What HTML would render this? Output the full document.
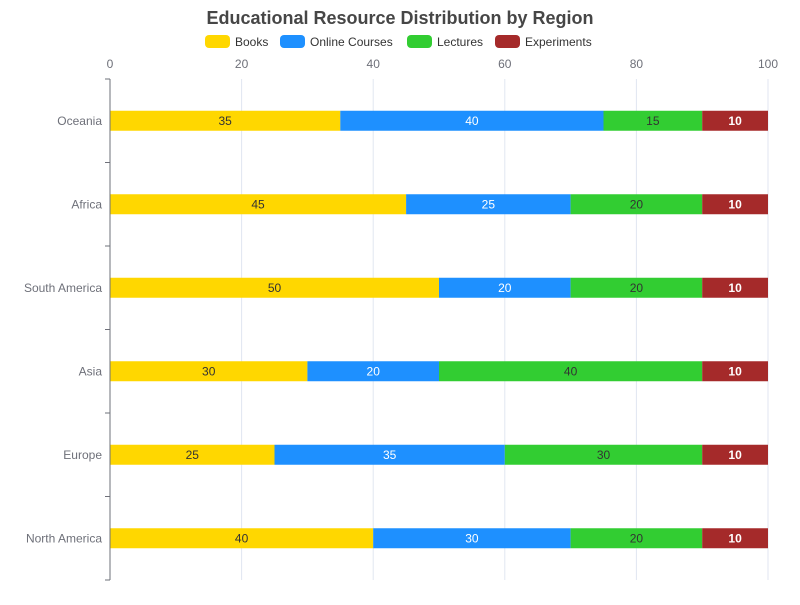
<!DOCTYPE html>
<html><head><meta charset="utf-8"><style>
body{margin:0;background:#fff;font-family:"Liberation Sans",sans-serif}
svg text{font-family:"Liberation Sans",sans-serif}
</style></head><body>
<svg id="chart" width="800" height="600" xmlns="http://www.w3.org/2000/svg">
<text x="400" y="24" text-anchor="middle" font-size="18" font-weight="bold" fill="#464646">Educational Resource Distribution by Region</text>
<g id="legend"></g>
<g id="grid"></g>
<g id="bars"></g>
<g id="axes"></g>
</svg>
<script>
const categories=["Oceania","Africa","South America","Asia","Europe","North America"];
const seriesNames=["Books","Online Courses","Lectures","Experiments"];
const books=[35,45,50,30,25,40];
const online=[40,25,20,20,35,30];
const lectures=[15,20,20,40,30,20];
const experiments=[10,10,10,10,10,10];
const xTicks=[0,20,40,60,80,100];
const colors=["#FFD700","#1E90FF","#32CD32","#A52A2A"];
const labelColors=["#333","#fff","#333","#fff"];
const series=[books,online,lectures,experiments];
const NS="http://www.w3.org/2000/svg";
const L=110,R=768,T=79,B=580,barH=20;
const x=v=>L+(R-L)*v/100;
const band=(B-T)/categories.length;
const yc=i=>T+band*(i+0.5);
function mk(tag,attrs,parent){const e=document.createElementNS(NS,tag);for(const k in attrs)e.setAttribute(k,attrs[k]);parent.appendChild(e);return e;}
const grid=document.getElementById('grid'),axes=document.getElementById('axes'),bars=document.getElementById('bars'),legend=document.getElementById('legend');
xTicks.forEach(t=>{
 const l=mk('line',{x1:x(t),x2:x(t),y1:T,y2:B,stroke:'#e0e6f1'},grid);
 
 
 const tx=mk('text',{x:x(t),y:68,'text-anchor':'middle','font-size':12,fill:'#6e7079'},axes);
 tx.textContent=t;
 
 
});
const ax=mk('line',{x1:L,x2:L,y1:T,y2:B,stroke:'#6e7079'},axes);


for(let i=0;i<=categories.length;i++){
 const tk=mk('line',{x1:L-5,x2:L,y1:T+band*i,y2:T+band*i,stroke:'#6e7079'},axes);
 
 
}
categories.forEach((c,i)=>{
 const tx=mk('text',{x:L-8,y:yc(i)+4,'text-anchor':'end','font-size':12,fill:'#6e7079'},axes);
 tx.textContent=c;
 
 
 let acc=0;
 series.forEach((s,j)=>{
  const v=s[i];
  const r=mk('rect',{x:x(acc),y:yc(i)-barH/2,width:x(acc+v)-x(acc),height:barH,fill:colors[j]},bars);
  
  
  const lb=mk('text',{x:(x(acc)+x(acc+v))/2,y:yc(i)+4,'text-anchor':'middle','font-size':12,fill:labelColors[j],'font-weight':j==3?'bold':'normal'},bars);
  lb.textContent=v;
  
  
  acc+=v;
 });
});
const lx=[205,280,407,495];
seriesNames.forEach((n,j)=>{
 const g=mk('g',{},legend);
 
 
 mk('rect',{x:lx[j],y:35,width:25,height:13,rx:4,fill:colors[j]},g);
 const t=mk('text',{x:lx[j]+30,y:46,'font-size':12,fill:'#333'},g);
 t.textContent=n;
});
</script>
</body></html>
